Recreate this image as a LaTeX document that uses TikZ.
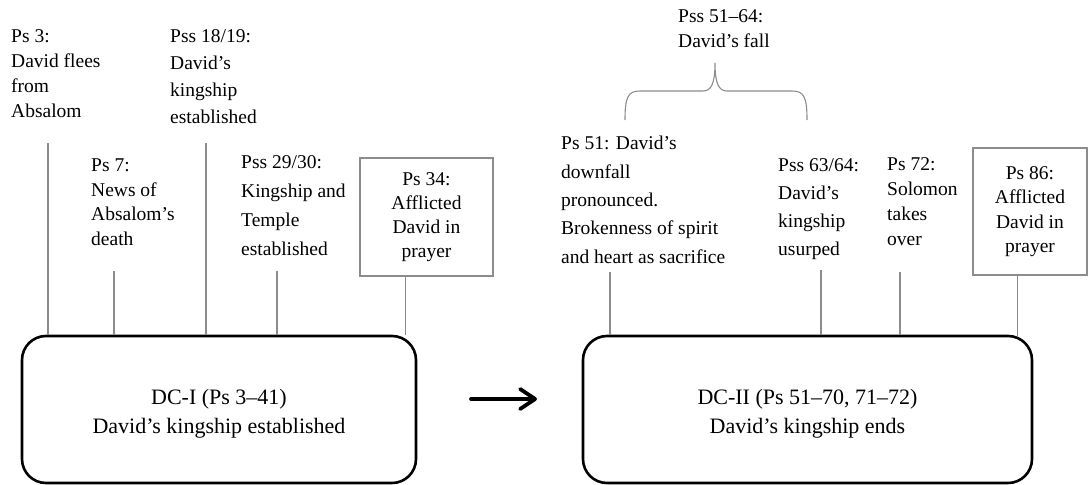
\documentclass[tikz,border=0pt]{standalone}
\usepackage{fontspec}
\setmainfont{Liberation Serif}
\usetikzlibrary{arrows.meta}
\definecolor{tickgray}{HTML}{8C8C8C}
\begin{document}
\begin{tikzpicture}[x=1pt,y=-1pt,
  lbl/.style={font=\fontsize{19.5}{#1}\selectfont, align=left, inner sep=0pt, anchor=base west, text=black},
  boxlbl/.style={draw=tickgray, line width=1.1pt, font=\fontsize{19.5}{#1}\selectfont, align=center, inner sep=0pt},
  bigbox/.style={draw=black, line width=2.6pt, rounded corners=24pt, font=\fontsize{22}{29}\selectfont, align=center, inner sep=0pt},
  tick/.style={draw=tickgray, line width=1.1pt},
  bracestyle/.style={draw=tickgray, line width=1.1pt},
  flow/.style={line width=3.8pt, line cap=round, -{Straight Barb[length=15pt, width=20pt, line cap=round, line join=round]}}
]
\useasboundingbox (0,0) rectangle (1088,485);

% main boxes
\node[bigbox, minimum width=394pt, minimum height=147pt] (dc1) at (219,409.5)
  {\rule{0pt}{23.5pt}DC-I (Ps 3–41)\\David’s kingship established};
\node[bigbox, minimum width=449pt, minimum height=147pt] (dc2) at (807.5,409.5)
  {\rule{0pt}{23.5pt}DC-II (Ps 51–70, 71–72)\\David’s kingship ends};

% arrow between the two boxes
\coordinate (a1) at (471,399);
\coordinate (a2) at (537,399);
\draw[flow] (a1) -- (a2);

% left labels (anchored at the baseline of their last line)
\node[lbl=24.7] (ps3) at (11,117) {Ps 3:\\David flees\\from\\Absalom};
\node[lbl=26.7] (ps18) at (170,123) {Pss 18/19:\\David’s\\kingship\\established};
\node[lbl=24.5] (ps7) at (91,245) {Ps 7:\\News of\\Absalom’s\\death};
\node[lbl=28.7] (ps29) at (241,255) {Pss 29/30:\\Kingship and\\Temple\\established};
\node[boxlbl=24, minimum width=133pt, minimum height=118pt] (ps34) at (426.5,217)
  {Ps 34:\\Afflicted\\David in\\prayer};

% right labels
\node[lbl=25] (fall) at (678,47) {Pss 51–64:\\David’s fall};
\node[lbl=28.3] (ps51) at (561,263) {Ps 51: David’s\\downfall\\pronounced.\\Brokenness of spirit\\and heart as sacrifice};
\node[lbl=28] (ps63) at (778,255) {Pss 63/64:\\David’s\\kingship\\usurped};
\node[lbl=24.7] (ps72) at (887,245) {Ps 72:\\Solomon\\takes\\over};
\node[boxlbl=24.5, minimum width=114pt, minimum height=127pt] (ps86) at (1030,211.5)
  {Ps 86:\\Afflicted\\David in\\prayer};

% tick lines, left
\coordinate (t3) at (48,143);
\coordinate (t7) at (114,271);
\coordinate (t18) at (206,143);
\coordinate (t29) at (277,271);
\coordinate (t34) at ([xshift=46pt]ps34.south west);
\draw[tick] (t3) -- (t3 |- dc1.north);
\draw[tick] (t7) -- (t7 |- dc1.north);
\draw[tick] (t18) -- (t18 |- dc1.north);
\draw[tick] (t29) -- (t29 |- dc1.north);
\draw[tick] (t34) -- (t34 |- dc1.north);

% tick lines, right
\coordinate (t51) at (610,272);
\coordinate (t63) at (821,270);
\coordinate (t72) at (900,272);
\coordinate (t86) at ([xshift=45pt]ps86.south west);
\draw[tick] (t51) -- (t51 |- dc2.north);
\draw[tick] (t63) -- (t63 |- dc2.north);
\draw[tick] (t72) -- (t72 |- dc2.north);
\draw[tick] (t86) -- ([yshift=-2pt]t86 |- dc2.north);

% brace over Ps 51 – Pss 63/64
\coordinate (bl) at (625,120);
\coordinate (br) at (807,120);
\coordinate (btip) at (715,63);
\draw[bracestyle] (bl) .. controls (625,97) and (628,91) .. (640,91)
  -- (703,91) .. controls (711,91) and (715,84) .. (btip)
  .. controls (715,84) and (719,91) .. (727,91)
  -- (792,91) .. controls (804,91) and (807,97) .. (br);
\end{tikzpicture}
\end{document}
